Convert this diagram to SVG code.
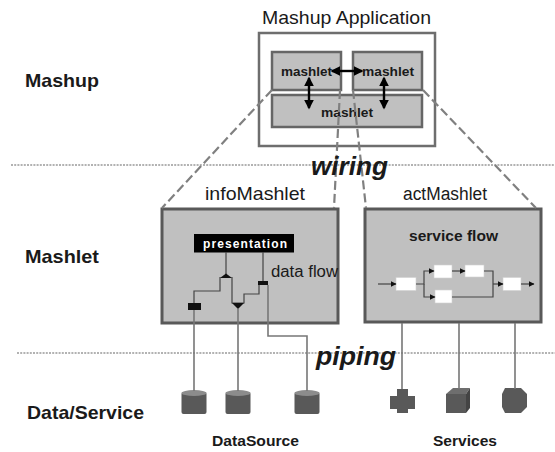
<svg xmlns="http://www.w3.org/2000/svg" width="555" height="452" viewBox="0 0 555 452">
<style>
text{font-family:"Liberation Sans",Arial,sans-serif;fill:#1a1a1a}
.b{font-weight:bold}
.sep{stroke:#666;stroke-width:1.2;stroke-dasharray:2 1.2;fill:none}
.dash{stroke:#808080;stroke-width:2.2;stroke-dasharray:9 4;fill:none}
.m{fill:#c0c0c0;stroke:#666;stroke-width:2.5}
.outer{fill:#fff;stroke:#6e6e6e;stroke-width:2.5}
.big{fill:#c0c0c0;stroke:#595959;stroke-width:3}
.f{fill:none;stroke:#444;stroke-width:1.2}
.p{fill:none;stroke:#777;stroke-width:1.6}
.dark{fill:#595959}
.top{fill:#8c8c8c}
.box{fill:#fff;stroke:#d0d0d0;stroke-width:.6}
.bar{stroke:#000;stroke-width:2.4;fill:none;marker-start:url(#ah);marker-end:url(#ah)}
</style>
<defs>
<marker id="ah" viewBox="0 0 6 6" refX="5" refY="3" markerWidth="4" markerHeight="4" orient="auto-start-reverse"><path d="M0 0L6 3L0 6z" fill="#000"/></marker>
<marker id="sa" viewBox="0 0 6 6" refX="5.5" refY="3" markerWidth="6" markerHeight="6" markerUnits="userSpaceOnUse" orient="auto"><path d="M0 0L6 3L0 6z" fill="#111"/></marker>
</defs>
<g id="separators">
<path class="sep" d="M11 165H555M17 353H555"/>
</g>
<g id="layer-labels">
<text class="b" x="25" y="87" font-size="19" textLength="74" lengthAdjust="spacingAndGlyphs">Mashup</text>
<text class="b" x="25" y="263" font-size="19" textLength="74" lengthAdjust="spacingAndGlyphs">Mashlet</text>
<text class="b" x="27" y="419" font-size="19" textLength="117" lengthAdjust="spacingAndGlyphs">Data/Service</text>
</g>
<g id="mashup-application">
<text x="262" y="24" font-size="19" textLength="169" lengthAdjust="spacingAndGlyphs">Mashup Application</text>
<rect class="outer" x="259" y="33" width="176" height="113"/>
</g>
<g id="mashlet-a"><rect class="m" x="272" y="52" width="69" height="38"/><text class="b" x="281" y="76" font-size="13.500" textLength="51" lengthAdjust="spacingAndGlyphs">mashlet</text></g>
<g id="mashlet-b"><rect class="m" x="353" y="52" width="69" height="38"/><text class="b" x="362" y="76" font-size="13.500" textLength="52" lengthAdjust="spacingAndGlyphs">mashlet</text></g>
<g id="mashlet-c"><rect class="m" x="272" y="95" width="150" height="32"/><text class="b" x="321" y="117" font-size="13.500" textLength="52" lengthAdjust="spacingAndGlyphs">mashlet</text></g>
<g id="info-mashlet">
<text x="205" y="200" font-size="19" textLength="100" lengthAdjust="spacingAndGlyphs">infoMashlet</text>
<rect class="big" x="162" y="209" width="176" height="114"/>
<rect x="194" y="234" width="100" height="18.500" fill="#000"/>
<text class="b" x="203" y="248" font-size="12" textLength="84" lengthAdjust="spacing" style="fill:#fff">presentation</text>
<text x="271" y="277" font-size="16" textLength="67" lengthAdjust="spacingAndGlyphs">data flow</text>
</g>
<g id="act-mashlet">
<text x="403" y="200" font-size="18" textLength="84" lengthAdjust="spacingAndGlyphs">actMashlet</text>
<rect class="big" x="365" y="209" width="176" height="113"/>
<text class="b" x="409" y="241" font-size="15" textLength="89" lengthAdjust="spacingAndGlyphs">service flow</text>
<rect class="box" x="396" y="277.500" width="20" height="13"/>
<rect class="box" x="434" y="265" width="18" height="13"/>
<rect class="box" x="465" y="265" width="19" height="12"/>
<rect class="box" x="435" y="290" width="17" height="13"/>
<rect class="box" x="503" y="277.500" width="18" height="13"/>
</g>
<g id="datasource-1"><rect class="dark" x="181.500" y="392" width="25" height="22" rx="2"/><ellipse class="top" cx="194" cy="393" rx="12.500" ry="3"/></g>
<g id="datasource-2"><rect class="dark" x="225.500" y="392" width="25" height="22" rx="2"/><ellipse class="top" cx="238" cy="393" rx="12.500" ry="3"/></g>
<g id="datasource-3"><rect class="dark" x="294.500" y="392" width="25" height="22" rx="2"/><ellipse class="top" cx="307" cy="393" rx="12.500" ry="3"/></g>
<g id="datasource-label"><text class="b" x="212" y="446" font-size="15.500" textLength="87" lengthAdjust="spacingAndGlyphs">DataSource</text></g>
<g id="service-plus"><path class="dark" d="M397 389H408V396H415V409H408V413H397V409H390V396H397Z"/></g>
<g id="service-cube"><path class="dark" d="M446 394H466V413H446Z"/><path fill="#6e6e6e" d="M446 394L453 388H470L466 394Z"/><path fill="#444" d="M466 394L470 388V408L466 413Z"/></g>
<g id="service-octagon"><path class="dark" d="M505 388H521L527 394V407L521 413H505L502 407V394Z"/></g>
<g id="services-label"><text class="b" x="433" y="446" font-size="15.500" textLength="64" lengthAdjust="spacingAndGlyphs">Services</text></g>
<g id="connectors">
<path class="dash" d="M272 90L162 208M340 90L334 208M353 90L366 208M423 90L536 208"/>
<path class="bar" d="M332 71H362"/>
<path class="bar" d="M309 78V108"/>
<path class="bar" d="M384 78V108"/>
<path class="f" d="M226 252V275M263 252V282M194 304V291H220V277M232 277V303H244V294H259V284"/>
<path d="M220 278L226 273.500L232 278Z" fill="#111"/>
<path d="M232 303H244L238 309Z" fill="#111"/>
<rect x="188" y="303" width="13" height="7" fill="#111"/>
<rect x="258" y="281" width="10" height="4" fill="#111"/>
<path class="p" d="M194 310V391M238 309V391M268 285V336H307V391"/>
<path class="p" d="M402 323V389M459 323V389M515 323V389"/>
<path class="f" marker-end="url(#sa)" d="M378 284H396"/>
<path class="f" marker-end="url(#sa)" d="M416 284H424V271H434"/>
<path class="f" marker-end="url(#sa)" d="M424 284V297H435"/>
<path class="f" marker-end="url(#sa)" d="M452 271H465"/>
<path class="f" d="M484 271H493V297H452"/>
<path class="f" marker-end="url(#sa)" d="M493 284H503"/>
<path class="f" marker-end="url(#sa)" d="M521 284H534"/>
</g>
<g id="band-labels">
<text x="311" y="175" font-size="26" font-weight="bold" font-style="italic" textLength="77" lengthAdjust="spacingAndGlyphs">wiring</text>
<text x="316" y="365" font-size="26" font-weight="bold" font-style="italic" textLength="80" lengthAdjust="spacingAndGlyphs">piping</text>
</g>
</svg>
